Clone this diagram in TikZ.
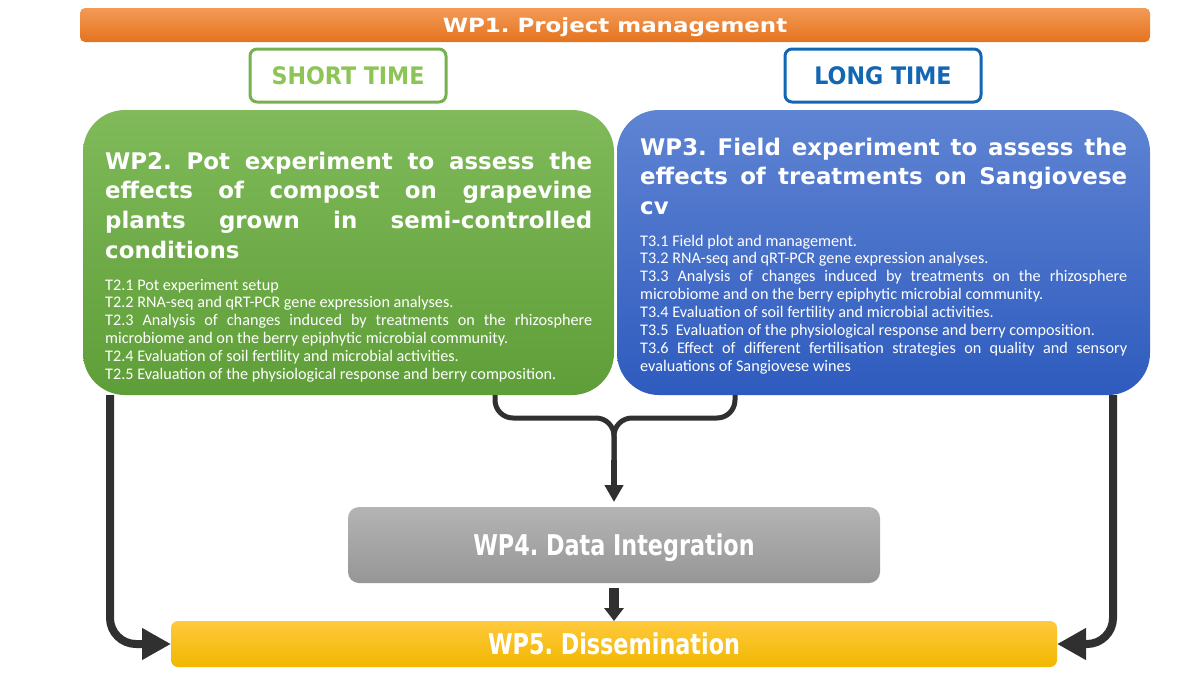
\documentclass[tikz,border=0pt]{standalone}
\usepackage{fontspec}
\usetikzlibrary{arrows.meta,calc}
\newfontfamily\hfont{DejaVu Sans}
\newfontfamily\wpwide{DejaVu Sans}[FakeStretch=1.17]
\newfontfamily\wpnarrow{DejaVu Sans}[FakeStretch=0.78]
\newfontfamily\timefont{DejaVu Sans}[FakeStretch=0.92]
\newfontfamily\bodyfont{Carlito}
\definecolor{orT}{HTML}{F39A57}
\definecolor{orB}{HTML}{E5731E}
\definecolor{grT}{HTML}{80BA5A}
\definecolor{grB}{HTML}{5E9E38}
\definecolor{blT}{HTML}{5F84D3}
\definecolor{blB}{HTML}{2E5BBE}
\definecolor{gyT}{HTML}{B4B4B4}
\definecolor{gyB}{HTML}{969696}
\definecolor{yeT}{HTML}{FFC93C}
\definecolor{yeB}{HTML}{F1B700}
\definecolor{stborder}{HTML}{77B04E}
\definecolor{sttext}{HTML}{8CC555}
\definecolor{ltblue}{HTML}{1266B3}
\definecolor{dark}{HTML}{303030}
\tikzset{
  box/.style={inner sep=0pt, outer sep=0pt, draw=none},
  wptitle/.style={text=white, font=\wpnarrow\bfseries\fontsize{28.6}{30}\selectfont},
  timebox/.style={box, fill=white, line width=3pt, rounded corners=7pt,
    minimum width=196pt, minimum height=53pt, text height=17.6pt, text depth=0pt,
    font=\timefont\bfseries\fontsize{24.1}{26}\selectfont},
  headtext/.style={anchor=base west, inner sep=0pt, text width=487pt, align=justify,
    text=white, font=\hfont\bfseries\fontsize{22.9}{29.8}\selectfont},
  bodytext/.style={anchor=base west, inner sep=0pt, text width=487pt, align=justify,
    text=white, font=\bodyfont\fontsize{16.2}{17.9}\selectfont},
  conn/.style={draw=dark, line width=5pt, rounded corners=18pt},
  bigconn/.style={draw=dark, line width=8pt, rounded corners=26pt,
    -{Triangle[length=29pt,width=30pt]}},
}
\frenchspacing
\begin{document}
\begin{tikzpicture}[x=1pt,y=-1pt]
\useasboundingbox (0,0) rectangle (1200,675);
\hyphenpenalty=10000
\frenchspacing
% WP1
\node[box, rounded corners=5pt, top color=orT, bottom color=orB,
  minimum width=1070pt, minimum height=34pt, text height=14pt, text depth=0pt,
  text=white, font=\wpwide\bfseries\fontsize{19.6}{22}\selectfont\frenchspacing]
  (wp1) at (615,25) {WP1. Project management};
% time labels
\node[timebox, draw=stborder, text=sttext] (st) at (348,75.5) {SHORT TIME};
\node[timebox, draw=ltblue, text=ltblue] (lt) at (883,75.5) {LONG TIME};
% WP2 / WP3 boxes
\node[box, rounded corners=42pt, top color=grT, bottom color=grB,
  minimum width=531pt, minimum height=285pt] (wp2) at (348.5,252.5) {};
\node[box, rounded corners=42pt, top color=blT, bottom color=blB,
  minimum width=533pt, minimum height=285pt] (wp3) at (883.5,252.5) {};
\node[headtext] (wp2h) at (105,169) {\frenchspacing WP2. Pot experiment to assess the\linebreak
  effects of compost on grapevine\linebreak plants grown in semi-controlled\linebreak conditions};
\node[bodytext] (wp2t) at (105,290) {\frenchspacing T2.1 Pot experiment setup\\
T2.2 RNA-seq and qRT-PCR gene expression analyses.\\
T2.3 Analysis of changes induced by treatments on the rhizosphere microbiome and on the berry epiphytic microbial community.\\
T2.4 Evaluation of soil fertility and microbial activities.\\
T2.5 Evaluation of the physiological response and berry composition.};
\node[headtext] (wp3h) at (640,155) {\frenchspacing WP3. Field experiment to assess the\linebreak
  effects of treatments on Sangiovese\linebreak cv};
\node[bodytext] (wp3t) at (640,246) {\frenchspacing T3.1 Field plot and management.\\
T3.2 RNA-seq and qRT-PCR gene expression analyses.\\
T3.3 Analysis of changes induced by treatments on the rhizosphere microbiome and on the berry epiphytic microbial community.\\
T3.4 Evaluation of soil fertility and microbial activities.\\
T3.5\ \ Evaluation of the physiological response and berry composition.\\
T3.6 Effect of different fertilisation strategies on quality and sensory evaluations of Sangiovese wines};
% WP4 / WP5
\node[box, rounded corners=11pt, top color=gyT, bottom color=gyB,
  minimum width=532pt, minimum height=76pt, text height=21pt, text depth=-5pt, wptitle]
  (wp4) at (614,545) {\frenchspacing WP4. Data Integration};
\node[box, rounded corners=7pt, top color=yeT, bottom color=yeB,
  minimum width=886pt, minimum height=46pt, text height=20.7pt, text depth=-7pt, wptitle]
  (wp5) at (614,644) {\frenchspacing WP5. Dissemination};
% brace connector
\coordinate (join) at (614,418);
\coordinate (stem) at (614,462);
\draw[conn] ([xshift=-119pt]wp2.south east) |- (join) -- (stem);
\draw[conn] ([xshift=118pt]wp3.south west) |- (join) -- (stem);
\draw[draw=dark, line width=5.5pt, -{Triangle[length=17pt,width=18pt]}]
  ([yshift=2pt]stem) -- ([yshift=5pt]wp4.north);
% WP4 -> WP5
\draw[draw=dark, line width=10pt, -{Triangle[length=13pt,width=19pt]}]
  ([yshift=-5pt]wp4.south) -- (wp5.north);
% side arrows
\draw[bigconn] ([xshift=27pt]wp2.south west) |- (wp5.west);
\draw[bigconn] ([xshift=-37pt]wp3.south east) |- (wp5.east);
\end{tikzpicture}
\end{document}
